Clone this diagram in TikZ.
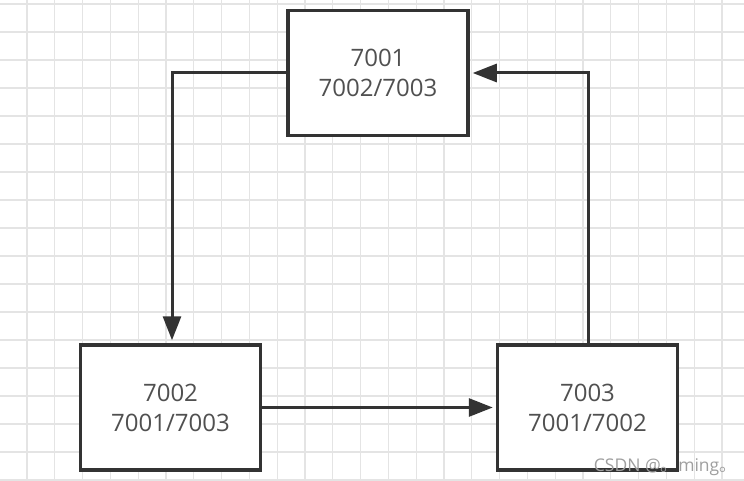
\documentclass[tikz,border=0pt]{standalone}
\usepackage{fontspec}
\setmainfont{Open Sans}
\newfontfamily\cjk{Noto Sans CJK SC}
\usetikzlibrary{arrows.meta}
\definecolor{gridc}{HTML}{E4E4E4}
\definecolor{linec}{HTML}{333333}
\definecolor{txtc}{HTML}{505050}
\begin{document}
\begin{tikzpicture}[x=1pt,y=-1pt,
  box/.style={draw=linec,line width=3.5pt,fill=white,minimum width=180pt,minimum height=125pt,
    align=center,font=\fontsize{24}{30}\selectfont,text=txtc,inner sep=0pt},
  conn/.style={draw=linec,line width=3pt,shorten >=3pt,-{Triangle[length=24pt,width=18pt]}}]
\useasboundingbox (0,0) rectangle (744,481);
\fill[white] (0,0) rectangle (744,481);
\foreach \i in {0,...,26} {\draw[gridc,line width=1.2pt] (27+27.8*\i,0) -- (27+27.8*\i,481);}
\foreach \j in {0,...,17} {\draw[gridc,line width=1.2pt] (0,4+28*\j) -- (744,4+28*\j);}
\node[box] (a) at (378,73) {7001\\7002/7003};
\node[box] (b) at (170.5,407.5) {7002\\7001/7003};
\node[box] (c) at (587.5,407.5) {7003\\7001/7002};
\coordinate (ab) at (172,73);
\coordinate (ca) at (588,73);
\draw[conn] (a.west) -- (ab) -- (ab |- b.north);
\draw[conn] (b.east) -- (c.west);
\draw[conn] (ca |- c.north) -- (ca) -- (a.east);
\node[anchor=base east,text=gray!75,font=\fontsize{17.5}{20}\selectfont,inner sep=0pt] (wm) at (737,471) {CSDN @{\cjk 。}ming{\cjk 。}};
\end{tikzpicture}
\end{document}
